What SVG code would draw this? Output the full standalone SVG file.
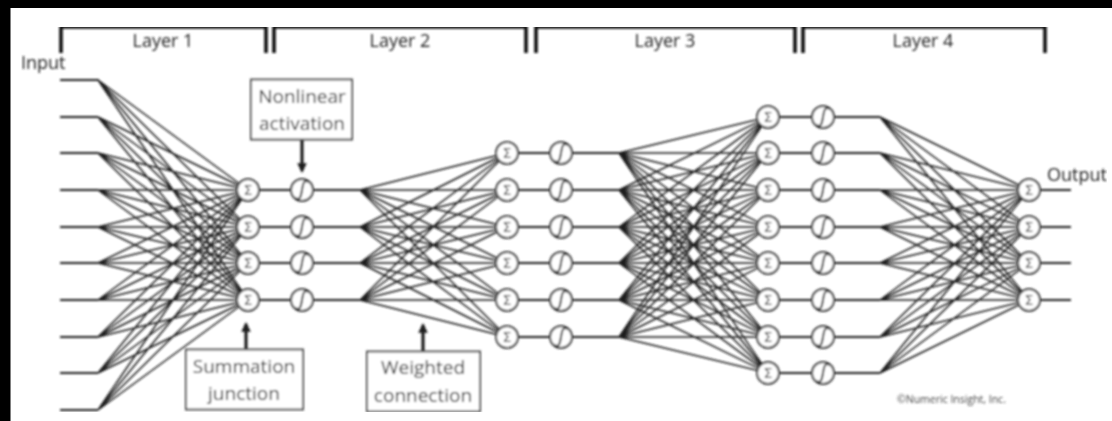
<svg xmlns="http://www.w3.org/2000/svg" width="1112" height="421" viewBox="0 0 1112 421">
<style>
.fan{fill:none;stroke:#1c1c1c;stroke-width:1.5}
.wire{fill:none;stroke:#222;stroke-width:1.9}
.brk{fill:none;stroke:#111;stroke-width:3.6}
.ptr{fill:none;stroke:#1c1c1c;stroke-width:3.2}
.box{fill:#fff;stroke:#444;stroke-width:1.9}
.node{fill:#fff;stroke:#333;stroke-width:1.9}
.curve{fill:none;stroke:#222;stroke-width:1.9}
text{font-family:"Open Sans","Noto Sans",sans-serif;fill:#222}
.lbl{font-size:18px}
.big{font-size:19px;text-anchor:middle}
.mid{text-anchor:middle}
.sig{font-family:"DejaVu Sans",sans-serif;font-size:14px;text-anchor:middle;fill:#333}
</style>
<defs>
<filter id="soft" x="0" y="0" width="100%" height="100%"><feGaussianBlur stdDeviation="0.85"/></filter>
<marker id="tip" viewBox="0 0 10 10" refX="8" refY="5" markerWidth="3" markerHeight="3" orient="auto"><path d="M0 0L10 5L0 10Z" fill="#1c1c1c"/></marker>
</defs>
<rect width="1112" height="421" fill="#000"/>
<rect x="10.500" y="8" width="1102" height="413" fill="#fff"/>
<g filter="url(#soft)">
<g id="connectors">
<path class="fan" d="M98 80L248 190M98 80L248 227M98 80L248 263M98 80L248 300M98 117L248 190M98 117L248 227M98 117L248 263M98 117L248 300M98 153L248 190M98 153L248 227M98 153L248 263M98 153L248 300M98 190L248 190M98 190L248 227M98 190L248 263M98 190L248 300M98 227L248 190M98 227L248 227M98 227L248 263M98 227L248 300M98 263L248 190M98 263L248 227M98 263L248 263M98 263L248 300M98 300L248 190M98 300L248 227M98 300L248 263M98 300L248 300M98 337L248 190M98 337L248 227M98 337L248 263M98 337L248 300M98 373L248 190M98 373L248 227M98 373L248 263M98 373L248 300M98 410L248 190M98 410L248 227M98 410L248 263M98 410L248 300"/>
<path class="fan" d="M360 190L507 153M360 190L507 190M360 190L507 227M360 190L507 263M360 190L507 300M360 190L507 337M360 227L507 153M360 227L507 190M360 227L507 227M360 227L507 263M360 227L507 300M360 227L507 337M360 263L507 153M360 263L507 190M360 263L507 227M360 263L507 263M360 263L507 300M360 263L507 337M360 300L507 153M360 300L507 190M360 300L507 227M360 300L507 263M360 300L507 300M360 300L507 337"/>
<path class="fan" d="M619 153L768 117M619 153L768 153M619 153L768 190M619 153L768 227M619 153L768 263M619 153L768 300M619 153L768 337M619 153L768 373M619 190L768 117M619 190L768 153M619 190L768 190M619 190L768 227M619 190L768 263M619 190L768 300M619 190L768 337M619 190L768 373M619 227L768 117M619 227L768 153M619 227L768 190M619 227L768 227M619 227L768 263M619 227L768 300M619 227L768 337M619 227L768 373M619 263L768 117M619 263L768 153M619 263L768 190M619 263L768 227M619 263L768 263M619 263L768 300M619 263L768 337M619 263L768 373M619 300L768 117M619 300L768 153M619 300L768 190M619 300L768 227M619 300L768 263M619 300L768 300M619 300L768 337M619 300L768 373M619 337L768 117M619 337L768 153M619 337L768 190M619 337L768 227M619 337L768 263M619 337L768 300M619 337L768 337M619 337L768 373"/>
<path class="fan" d="M880 117L1029 190M880 117L1029 227M880 117L1029 263M880 117L1029 300M880 153L1029 190M880 153L1029 227M880 153L1029 263M880 153L1029 300M880 190L1029 190M880 190L1029 227M880 190L1029 263M880 190L1029 300M880 227L1029 190M880 227L1029 227M880 227L1029 263M880 227L1029 300M880 263L1029 190M880 263L1029 227M880 263L1029 263M880 263L1029 300M880 300L1029 190M880 300L1029 227M880 300L1029 263M880 300L1029 300M880 337L1029 190M880 337L1029 227M880 337L1029 263M880 337L1029 300M880 373L1029 190M880 373L1029 227M880 373L1029 263M880 373L1029 300"/>
<path class="wire" d="M60 80H98M60 117H98M60 153H98M60 190H98M60 227H98M60 263H98M60 300H98M60 337H98M60 373H98M60 410H98"/>
<path class="wire" d="M259 190H360M259 227H360M259 263H360M259 300H360"/>
<path class="wire" d="M518 153H619M518 190H619M518 227H619M518 263H619M518 300H619M518 337H619"/>
<path class="wire" d="M779 117H880M779 153H880M779 190H880M779 227H880M779 263H880M779 300H880M779 337H880M779 373H880"/>
<path class="wire" d="M1040 190H1071M1040 227H1071M1040 263H1071M1040 300H1071"/>
<path class="ptr" marker-end="url(#tip)" d="M302 139V171"/>
<path class="ptr" marker-end="url(#tip)" d="M246 349V324"/>
<path class="ptr" marker-end="url(#tip)" d="M423 351V325"/>
</g>
<g id="layer-1"><path class="brk" d="M61 53V27H266V53"/><text class="lbl mid" x="163" y="47">Layer 1</text></g>
<g id="layer-2"><path class="brk" d="M274 53V27H526V53"/><text class="lbl mid" x="400" y="47">Layer 2</text></g>
<g id="layer-3"><path class="brk" d="M536 53V27H795V53"/><text class="lbl mid" x="665" y="47">Layer 3</text></g>
<g id="layer-4"><path class="brk" d="M803 53V27H1045V53"/><text class="lbl mid" x="923" y="47">Layer 4</text></g>
<g id="input"><text class="lbl" x="21" y="69">Input</text></g>
<g id="output"><text class="lbl" x="1047" y="181">Output</text></g>
<g id="nonlinear-activation"><rect class="box" x="251" y="79.500" width="101" height="60"/><text class="big" x="302" y="103">Nonlinear</text><text class="big" x="302" y="130">activation</text></g>
<g id="summation-junction"><rect class="box" x="186" y="349.500" width="117" height="60"/><text class="big" x="244" y="373">Summation</text><text class="big" x="244" y="400">junction</text></g>
<g id="weighted-connection"><rect class="box" x="367" y="351.500" width="113" height="60"/><text class="big" x="423" y="374">Weighted</text><text class="big" x="423" y="402">connection</text></g>
<g id="copyright"><text x="897" y="403" style="font-size:10.500px;fill:#444">©Numeric Insight, Inc.</text></g>
<g id="s1-1"><circle class="node" cx="248" cy="190" r="11"/><text class="sig" x="248" y="195">Σ</text></g>
<g id="s1-2"><circle class="node" cx="248" cy="227" r="11"/><text class="sig" x="248" y="232">Σ</text></g>
<g id="s1-3"><circle class="node" cx="248" cy="263" r="11"/><text class="sig" x="248" y="268">Σ</text></g>
<g id="s1-4"><circle class="node" cx="248" cy="300" r="11"/><text class="sig" x="248" y="305">Σ</text></g>
<g id="a1-1"><circle class="node" cx="302" cy="190" r="11"/><path class="curve" d="M296 198c4 3 5-2 6-8s2-11 6-8"/></g>
<g id="a1-2"><circle class="node" cx="302" cy="227" r="11"/><path class="curve" d="M296 235c4 3 5-2 6-8s2-11 6-8"/></g>
<g id="a1-3"><circle class="node" cx="302" cy="263" r="11"/><path class="curve" d="M296 271c4 3 5-2 6-8s2-11 6-8"/></g>
<g id="a1-4"><circle class="node" cx="302" cy="300" r="11"/><path class="curve" d="M296 308c4 3 5-2 6-8s2-11 6-8"/></g>
<g id="s2-1"><circle class="node" cx="507" cy="153" r="11"/><text class="sig" x="507" y="158">Σ</text></g>
<g id="s2-2"><circle class="node" cx="507" cy="190" r="11"/><text class="sig" x="507" y="195">Σ</text></g>
<g id="s2-3"><circle class="node" cx="507" cy="227" r="11"/><text class="sig" x="507" y="232">Σ</text></g>
<g id="s2-4"><circle class="node" cx="507" cy="263" r="11"/><text class="sig" x="507" y="268">Σ</text></g>
<g id="s2-5"><circle class="node" cx="507" cy="300" r="11"/><text class="sig" x="507" y="305">Σ</text></g>
<g id="s2-6"><circle class="node" cx="507" cy="337" r="11"/><text class="sig" x="507" y="342">Σ</text></g>
<g id="a2-1"><circle class="node" cx="561" cy="153" r="11"/><path class="curve" d="M555 161c4 3 5-2 6-8s2-11 6-8"/></g>
<g id="a2-2"><circle class="node" cx="561" cy="190" r="11"/><path class="curve" d="M555 198c4 3 5-2 6-8s2-11 6-8"/></g>
<g id="a2-3"><circle class="node" cx="561" cy="227" r="11"/><path class="curve" d="M555 235c4 3 5-2 6-8s2-11 6-8"/></g>
<g id="a2-4"><circle class="node" cx="561" cy="263" r="11"/><path class="curve" d="M555 271c4 3 5-2 6-8s2-11 6-8"/></g>
<g id="a2-5"><circle class="node" cx="561" cy="300" r="11"/><path class="curve" d="M555 308c4 3 5-2 6-8s2-11 6-8"/></g>
<g id="a2-6"><circle class="node" cx="561" cy="337" r="11"/><path class="curve" d="M555 345c4 3 5-2 6-8s2-11 6-8"/></g>
<g id="s3-1"><circle class="node" cx="768" cy="117" r="11"/><text class="sig" x="768" y="122">Σ</text></g>
<g id="s3-2"><circle class="node" cx="768" cy="153" r="11"/><text class="sig" x="768" y="158">Σ</text></g>
<g id="s3-3"><circle class="node" cx="768" cy="190" r="11"/><text class="sig" x="768" y="195">Σ</text></g>
<g id="s3-4"><circle class="node" cx="768" cy="227" r="11"/><text class="sig" x="768" y="232">Σ</text></g>
<g id="s3-5"><circle class="node" cx="768" cy="263" r="11"/><text class="sig" x="768" y="268">Σ</text></g>
<g id="s3-6"><circle class="node" cx="768" cy="300" r="11"/><text class="sig" x="768" y="305">Σ</text></g>
<g id="s3-7"><circle class="node" cx="768" cy="337" r="11"/><text class="sig" x="768" y="342">Σ</text></g>
<g id="s3-8"><circle class="node" cx="768" cy="373" r="11"/><text class="sig" x="768" y="378">Σ</text></g>
<g id="a3-1"><circle class="node" cx="823" cy="117" r="11"/><path class="curve" d="M817 125c4 3 5-2 6-8s2-11 6-8"/></g>
<g id="a3-2"><circle class="node" cx="823" cy="153" r="11"/><path class="curve" d="M817 161c4 3 5-2 6-8s2-11 6-8"/></g>
<g id="a3-3"><circle class="node" cx="823" cy="190" r="11"/><path class="curve" d="M817 198c4 3 5-2 6-8s2-11 6-8"/></g>
<g id="a3-4"><circle class="node" cx="823" cy="227" r="11"/><path class="curve" d="M817 235c4 3 5-2 6-8s2-11 6-8"/></g>
<g id="a3-5"><circle class="node" cx="823" cy="263" r="11"/><path class="curve" d="M817 271c4 3 5-2 6-8s2-11 6-8"/></g>
<g id="a3-6"><circle class="node" cx="823" cy="300" r="11"/><path class="curve" d="M817 308c4 3 5-2 6-8s2-11 6-8"/></g>
<g id="a3-7"><circle class="node" cx="823" cy="337" r="11"/><path class="curve" d="M817 345c4 3 5-2 6-8s2-11 6-8"/></g>
<g id="a3-8"><circle class="node" cx="823" cy="373" r="11"/><path class="curve" d="M817 381c4 3 5-2 6-8s2-11 6-8"/></g>
<g id="s4-1"><circle class="node" cx="1029" cy="190" r="11"/><text class="sig" x="1029" y="195">Σ</text></g>
<g id="s4-2"><circle class="node" cx="1029" cy="227" r="11"/><text class="sig" x="1029" y="232">Σ</text></g>
<g id="s4-3"><circle class="node" cx="1029" cy="263" r="11"/><text class="sig" x="1029" y="268">Σ</text></g>
<g id="s4-4"><circle class="node" cx="1029" cy="300" r="11"/><text class="sig" x="1029" y="305">Σ</text></g>
</g>
</svg>
